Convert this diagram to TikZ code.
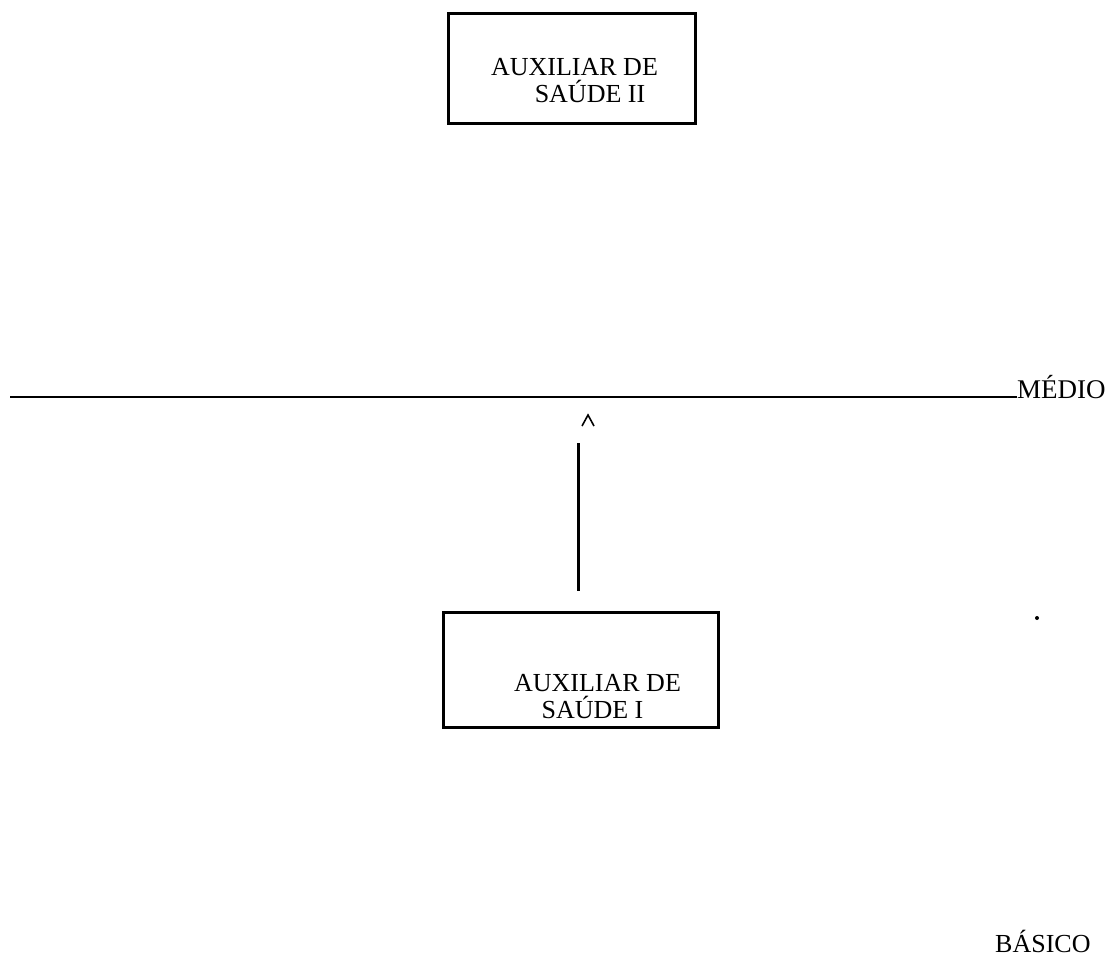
\documentclass[tikz,border=0pt]{standalone}
\usepackage{fontspec}
\setmainfont{Liberation Serif}
\begin{document}
\begin{tikzpicture}[x=1pt,y=-1pt,
  lbl/.style={inner sep=0pt,font=\fontsize{26}{30}\selectfont,anchor=base},
  rankbox/.style={draw,line width=3pt,inner sep=0pt},
  rule/.style={line width=2pt},
  link/.style={line width=2.5pt}]
\useasboundingbox (0,0) rectangle (1112,964);
% upper box
\node[rankbox,minimum width=247pt,minimum height=110pt] (b2) at (571.5,68) {};
\node[lbl] (b2a) at (574.5,75) {AUXILIAR DE};
\node[lbl] (b2b) at (590,102) {SAÚDE II};
% level line
\coordinate (l0) at (10,397);
\node[lbl,anchor=base west,font=\fontsize{27}{30}\selectfont] (medio) at (1017,398) {MÉDIO};
\draw[rule] (l0) -- (l0 -| medio.base west);
% lower box
\node[rankbox,minimum width=275pt,minimum height=115pt] (b1) at (580.5,669.5) {};
\node[lbl] (b1a) at (597.5,691) {AUXILIAR DE};
\node[lbl] (b1b) at (592.5,718) {SAÚDE I};
% connector with caret
\coordinate (tip) at (578.5,443);
\draw[link,shorten <=20pt] (b1.north -| tip) -- (tip);
\coordinate (caret) at (588,415);
\draw[line width=1.6pt,line join=miter] ([shift={(-6,11)}]caret) -- (caret) -- ([shift={(6,11)}]caret);
% basic level label
\node[lbl,anchor=base west] (basico) at (995,952) {BÁSICO};
% speck
\fill (1037,618) circle (2pt);
\end{tikzpicture}
\end{document}
